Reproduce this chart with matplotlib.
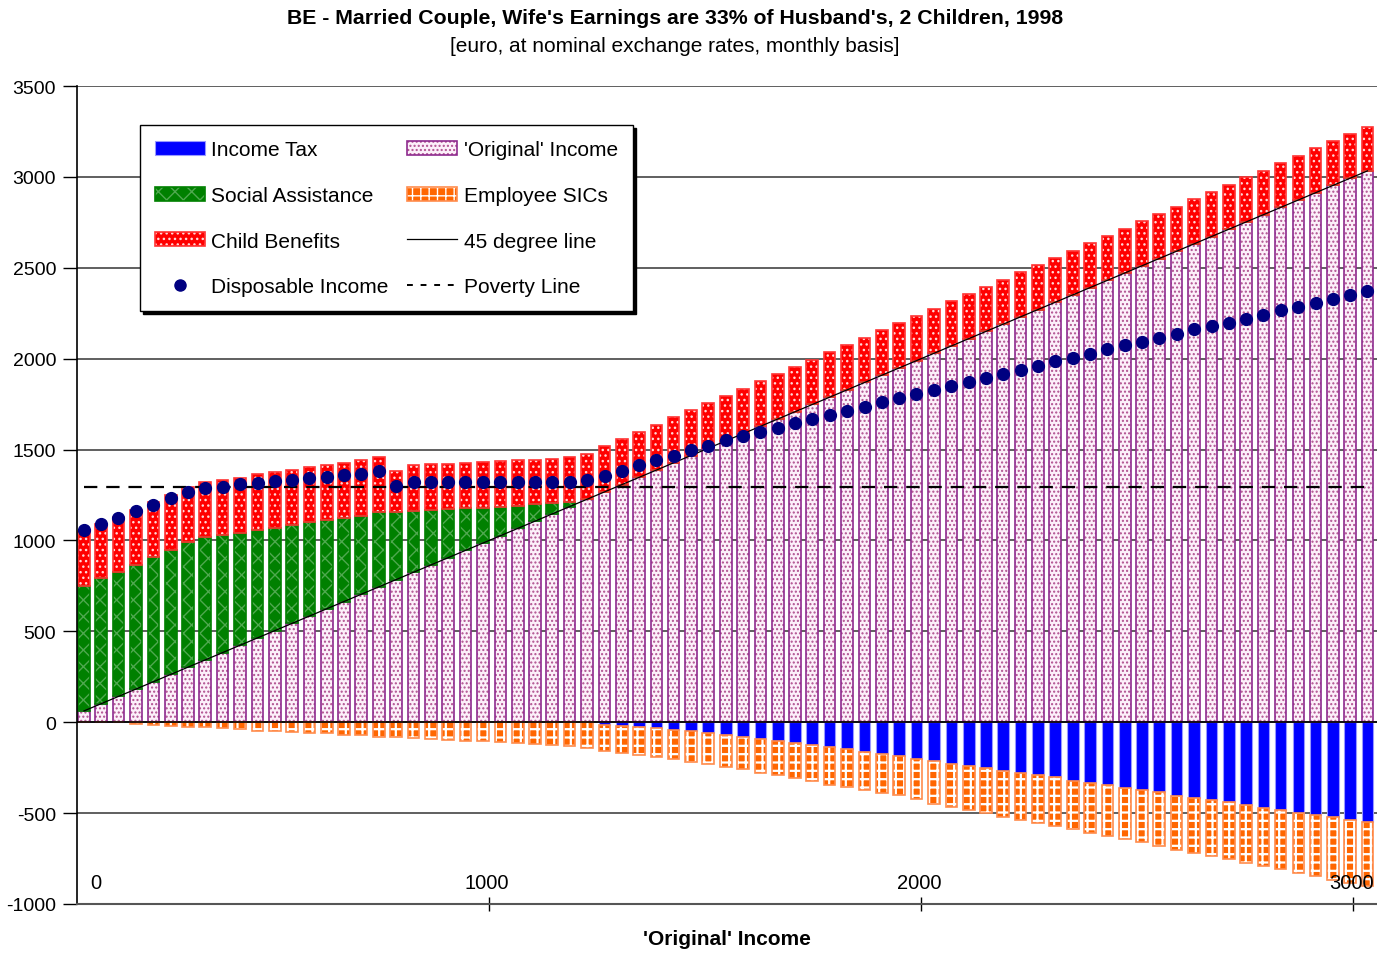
import matplotlib
matplotlib.use('Agg')
import matplotlib.pyplot as plt
import matplotlib.transforms as mtransforms
from matplotlib.patches import Rectangle
from matplotlib.lines import Line2D

plt.rcParams['font.family'] = ['Liberation Sans', 'DejaVu Sans']
plt.rcParams['hatch.linewidth'] = 1.0

# 'Original' income per household (also the x position of each bar)
orig = [62, 102, 142, 182, 223, 263, 303, 343, 383, 423,
        464, 504, 544, 584, 624, 664, 704, 745, 785, 825,
        865, 905, 945, 985, 1026, 1066, 1106, 1146, 1186, 1226,
        1267, 1307, 1347, 1387, 1427, 1467, 1507, 1548, 1588, 1628,
        1668, 1708, 1748, 1788, 1829, 1869, 1909, 1949, 1989, 2029,
        2070, 2110, 2150, 2190, 2230, 2270, 2310, 2351, 2391, 2431,
        2471, 2511, 2551, 2591, 2632, 2672, 2712, 2752, 2792, 2832,
        2873, 2913, 2953, 2993, 3033]

social = [688, 689, 682, 684, 687, 685, 686, 677, 648, 619,
          594, 567, 540, 515, 488, 460, 431, 409, 372, 338,
          303, 267, 231, 196, 159, 124, 94, 58, 23, 0,
          0, 0, 0, 0, 0, 0, 0, 0, 0, 0,
          0, 0, 0, 0, 0, 0, 0, 0, 0, 0,
          0, 0, 0, 0, 0, 0, 0, 0, 0, 0,
          0, 0, 0, 0, 0, 0, 0, 0, 0, 0,
          0, 0, 0, 0, 0]

child = [303, 300, 303, 302, 302, 304, 305, 302, 303, 303,
         305, 305, 304, 306, 305, 303, 305, 303, 227, 250,
         250, 247, 248, 248, 250, 251, 244, 245, 249, 251,
         253, 251, 249, 250, 252, 250, 247, 245, 246, 247,
         248, 248, 245, 246, 246, 246, 247, 245, 245, 245,
         245, 246, 243, 244, 245, 245, 246, 244, 244, 244,
         245, 245, 243, 242, 244, 243, 245, 246, 243, 244,
         243, 244, 244, 243, 243]

tax = [0, 0, 0, 0, 0, 0, 0, 0, 0, 0,
       0, 0, 0, 0, 0, 0, 0, 0, 0, 0,
       0, 0, 0, 0, 0, 0, 0, 0, 0, 0,
       15, 20, 29, 33, 44, 51, 62, 70, 81, 94,
       106, 117, 128, 139, 150, 163, 174, 185, 204, 215,
       228, 240, 250, 268, 281, 292, 303, 321, 334, 347,
       363, 374, 385, 404, 415, 428, 439, 457, 470, 481,
       497, 508, 521, 538, 549]

sic = [0, 0, 0, 9, 16, 20, 26, 28, 33, 39,
       46, 51, 55, 57, 62, 68, 73, 79, 80, 85,
       91, 98, 102, 104, 108, 116, 121, 125, 130, 140,
       143, 148, 151, 156, 159, 166, 169, 174, 179, 185,
       186, 189, 197, 204, 209, 210, 217, 217, 220, 233,
       238, 244, 251, 251, 257, 262, 269, 268, 273, 277,
       281, 286, 297, 297, 303, 308, 315, 315, 321, 324,
       334, 339, 345, 346, 352]

disp = [1057, 1090, 1124, 1161, 1196, 1231, 1268, 1288, 1295, 1310,
        1317, 1326, 1332, 1343, 1350, 1361, 1367, 1380, 1301, 1319,
        1319, 1319, 1319, 1319, 1319, 1319, 1319, 1319, 1319, 1334,
        1356, 1383, 1414, 1444, 1466, 1497, 1521, 1550, 1574, 1598,
        1620, 1644, 1667, 1691, 1713, 1735, 1759, 1783, 1803, 1825,
        1849, 1873, 1895, 1915, 1937, 1961, 1985, 2005, 2027, 2051,
        2073, 2092, 2114, 2137, 2163, 2181, 2198, 2220, 2242, 2266,
        2284, 2308, 2330, 2349, 2372]

poverty = 1295

yticks = [-1000, -500, 0, 500, 1000, 1500, 2000, 2500, 3000, 3500]
xlabels = ['0', '1000', '2000', '3000']

title = "BE - Married Couple, Wife's Earnings are 33% of Husband's, 2 Children, 1998"
subtitle = "[euro, at nominal exchange rates, monthly basis]"

# styles: (face, hatch, hatch colour, edge colour, hatch width)
st_orig = ('#fcf0fa', '....', '#b0508f', '#8e2a8e', 1.0)
st_sa = ('#008000', 'xx', '#4fa84f', '#008000', 1.0)
st_cb = ('#ff0000', '...', '#ffd8d8', '#ff3333', 1.0)
st_sic = ('#ff6600', '++', '#ffffff', '#ff8c4d', 1.6)
st_tax = ('#0000ff', None, None, '#9999ff', 1.0)

fig = plt.figure(figsize=(13.77, 9.54), dpi=100)
ax = fig.add_axes([77 / 1377, 49 / 954, 1300 / 1377, 818 / 954])

w = 27
base_sa = [o for o in orig]
base_cb = [o + s for o, s in zip(orig, social)]
neg_tax = [-t for t in tax]
neg_sic = [-s for s in sic]


def hbar(x, h, bottom, style, z=2):
    face, hatch, hcol, edge, hw = style
    if hatch:
        with plt.rc_context({'hatch.linewidth': hw}):
            ax.bar(x, h, w, bottom=bottom, color=face, hatch=hatch,
                   edgecolor=hcol, linewidth=0, zorder=z)
        ax.bar(x, h, w, bottom=bottom, fill=False, edgecolor=edge,
               linewidth=1.2, zorder=z + 0.1)
    else:
        ax.bar(x, h, w, bottom=bottom, color=face, edgecolor=edge,
               linewidth=0.8, zorder=z)


hbar(orig, orig, 0, st_orig)
hbar(orig, social, base_sa, st_sa)
hbar(orig, child, base_cb, st_cb)
hbar(orig, neg_tax, 0, st_tax)
hbar(orig, neg_sic, neg_tax, st_sic)

ax.plot(orig, orig, color='black', lw=0.9, zorder=4)
ax.hlines(poverty, orig[0], orig[-1], colors='black', linestyles=(0, (6, 4)),
          lw=1.6, zorder=4)
ax.plot(orig, disp, 'o', color='#000080', markersize=8.5, zorder=5)

ax.set_xlim(46, 3055)
ax.set_ylim(-1000, 3500)
ax.set_yticks(yticks)
ax.set_yticklabels([str(v) for v in yticks], fontsize=14)
ax.tick_params(axis='y', length=10, width=1, direction='out', pad=5)
ax.grid(axis='y', color='#444444', lw=1.2, zorder=0)
ax.set_axisbelow(True)
ax.axhline(0, color='black', lw=1.2, zorder=3)
for s in ['top', 'right']:
    ax.spines[s].set_visible(False)
ax.spines['left'].set_linewidth(1.2)
ax.spines['bottom'].set_color('#555555')
ax.spines['bottom'].set_linewidth(1.5)

ax.set_xticks([1000, 2000, 3000])
ax.set_xticklabels([])
ax.tick_params(axis='x', length=10, direction='inout', width=1)
blend = mtransforms.blended_transform_factory(ax.transAxes, ax.transData)
for i, lab in enumerate(xlabels):
    if i == 0:
        ax.text(0.0105, -880, lab, transform=blend, fontsize=14.5,
                ha='left', va='center')
    else:
        ax.text(int(lab) - 5, -880, lab, fontsize=14.5, ha='center', va='center')

fig.text(0.49, 1 - 19 / 954, title, fontsize=15.3, fontweight='bold',
         ha='center', va='center')
fig.text(0.49, 1 - 47 / 954, subtitle, fontsize=15, ha='center', va='center')
fig.text(0.5276, 1 - 940 / 954, "'Original' Income", fontsize=15,
         fontweight='bold', ha='center', va='center')


def proxy(style):
    face, hatch, hcol, edge, hw = style
    if hatch:
        with plt.rc_context({'hatch.linewidth': hw}):
            p = Rectangle((0, 0), 1, 1, facecolor=face, hatch=hatch,
                          edgecolor=hcol, linewidth=0)
        return (p, Rectangle((0, 0), 1, 1, fill=False, edgecolor=edge, linewidth=1.2))
    return Rectangle((0, 0), 1, 1, facecolor=face, edgecolor=edge, linewidth=0.8)


handles = [proxy(st_tax), proxy(st_sa), proxy(st_cb),
           Line2D([], [], marker='o', ls='none', color='#000080', markersize=8),
           proxy(st_orig), proxy(st_sic),
           Line2D([], [], color='black', lw=0.9),
           Line2D([], [], color='black', lw=1.4, ls=(0, (3, 4)))]
labels = ['Income Tax', 'Social Assistance', 'Child Benefits', 'Disposable Income',
          "'Original' Income", 'Employee SICs', '45 degree line', 'Poverty Line']
leg = ax.legend(handles, labels, ncol=2, loc='upper left',
                bbox_to_anchor=(0.0485, 0.952), borderaxespad=0, fontsize=15,
                handlelength=2.4, handleheight=0.65, handletextpad=0.3,
                labelspacing=1.28, columnspacing=0.9, borderpad=0.72,
                fancybox=False, shadow={'color': 'black', 'alpha': 1},
                framealpha=1, edgecolor='black')
leg.get_frame().set_linewidth(1.0)
leg.set_zorder(10)

fig.savefig('out.png', dpi=100)
